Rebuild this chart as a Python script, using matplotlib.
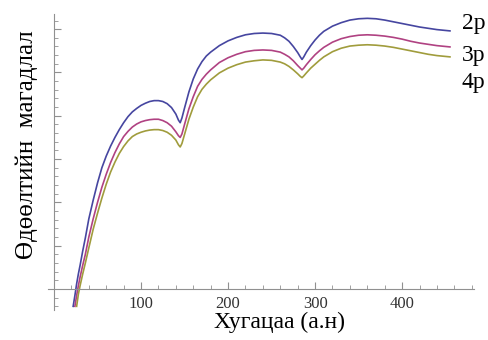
import matplotlib.pyplot as plt
from matplotlib.ticker import FixedLocator

plt.rcParams['font.family'] = ['Liberation Serif', 'DejaVu Serif']

# Data
x_2p = [22, 24, 26, 28, 30, 33, 36, 40, 45, 50, 55, 60, 65, 70, 75, 80, 85, 90, 95, 100, 105, 110,
        115, 120, 125, 130, 135, 140, 143, 145, 147, 150, 155, 160, 165, 170, 175, 180, 190, 200,
        210, 220, 230, 240, 250, 260, 265, 270, 275, 280, 283, 285, 287, 290, 295, 300, 305, 310,
        320, 330, 340, 350, 360, 370, 380, 390, 400, 410, 420, 430, 440, 450, 455]
y_2p = [-0.40, -0.15, 0.12, 0.35, 0.55, 0.88, 1.18, 1.62, 2.05, 2.45, 2.80, 3.07, 3.30, 3.50, 3.68,
        3.84, 3.98, 4.09, 4.17, 4.24, 4.29, 4.33, 4.35, 4.35, 4.33, 4.28, 4.19, 4.04, 3.90, 3.84,
        3.95, 4.18, 4.55, 4.85, 5.08, 5.25, 5.38, 5.47, 5.62, 5.73, 5.81, 5.87, 5.90, 5.91, 5.90,
        5.86, 5.80, 5.72, 5.60, 5.46, 5.36, 5.30, 5.36, 5.47, 5.62, 5.75, 5.86, 5.95, 6.07, 6.15,
        6.21, 6.24, 6.25, 6.24, 6.21, 6.17, 6.13, 6.09, 6.05, 6.02, 5.99, 5.97, 5.96]

x_3p = [24, 26, 28, 30, 33, 36, 40, 45, 50, 55, 60, 65, 70, 75, 80, 85, 90, 95, 100, 105, 110,
        115, 120, 125, 130, 135, 140, 143, 145, 147, 150, 155, 160, 165, 170, 175, 180, 190, 200,
        210, 220, 230, 240, 250, 260, 265, 270, 275, 280, 283, 285, 287, 290, 295, 300, 305, 310,
        320, 330, 340, 350, 360, 370, 380, 390, 400, 410, 420, 430, 440, 450, 455]
y_3p = [-0.40, -0.15, 0.08, 0.28, 0.55, 0.80, 1.20, 1.62, 2.00, 2.35, 2.65, 2.92, 3.15, 3.35,
        3.52, 3.64, 3.74, 3.81, 3.86, 3.89, 3.91, 3.92, 3.92, 3.89, 3.84, 3.76, 3.63, 3.54, 3.50,
        3.58, 3.80, 4.16, 4.44, 4.68, 4.84, 4.96, 5.06, 5.23, 5.34, 5.42, 5.48, 5.51, 5.52, 5.51,
        5.47, 5.42, 5.36, 5.27, 5.16, 5.10, 5.06, 5.10, 5.18, 5.30, 5.41, 5.50, 5.58, 5.70, 5.78,
        5.83, 5.86, 5.87, 5.86, 5.84, 5.81, 5.77, 5.72, 5.68, 5.65, 5.62, 5.60, 5.59]

x_4p = [26, 28, 30, 33, 36, 40, 45, 50, 55, 60, 65, 70, 75, 80, 85, 90, 95, 100, 105, 110,
        115, 120, 125, 130, 135, 140, 143, 145, 147, 150, 155, 160, 165, 170, 175, 180, 190, 200,
        210, 220, 230, 240, 250, 260, 265, 270, 275, 280, 283, 285, 287, 290, 295, 300, 305, 310,
        320, 330, 340, 350, 360, 370, 380, 390, 400, 410, 420, 430, 440, 450, 455]
y_4p = [-0.40, -0.12, 0.08, 0.35, 0.60, 0.95, 1.38, 1.75, 2.10, 2.42, 2.70, 2.93, 3.13, 3.29,
        3.42, 3.52, 3.58, 3.62, 3.65, 3.67, 3.68, 3.68, 3.66, 3.62, 3.55, 3.44, 3.33, 3.28, 3.36,
        3.57, 3.92, 4.20, 4.44, 4.61, 4.73, 4.83, 4.99, 5.10, 5.18, 5.24, 5.27, 5.29, 5.28, 5.24,
        5.20, 5.14, 5.06, 4.97, 4.91, 4.88, 4.92, 4.99, 5.10, 5.19, 5.28, 5.36, 5.48, 5.56, 5.61,
        5.63, 5.64, 5.63, 5.61, 5.58, 5.54, 5.50, 5.46, 5.42, 5.39, 5.37, 5.36]

series_labels = ['2p', '3p', '4p']
xticks = [100, 200, 300, 400]

W, H = 489, 340
fig = plt.figure(figsize=(W / 100, H / 100), dpi=100)
ax = fig.add_axes([0.098, 0.0888, 0.872, 0.870])

ax.plot(x_2p, y_2p, color='#4646a0', lw=1.2, solid_joinstyle='round')
ax.plot(x_3p, y_3p, color='#b04282', lw=1.2, solid_joinstyle='round')
ax.plot(x_4p, y_4p, color='#a09c3c', lw=1.2, solid_joinstyle='round')

ax.set_xlim(-7, 483)
ax.set_ylim(-0.48, 6.35)

# axes through the origin
for s in ['top', 'right']:
    ax.spines[s].set_visible(False)
ax.spines['left'].set_position(('data', 0))
ax.spines['bottom'].set_position(('data', 0))
for s in ['left', 'bottom']:
    ax.spines[s].set_color('#909090')
    ax.spines[s].set_linewidth(0.8)

ax.xaxis.set_major_locator(FixedLocator(xticks))
ax.xaxis.set_minor_locator(FixedLocator([v for v in range(20, 481, 20) if v % 100 != 0]))
ax.set_xticklabels([str(v) for v in xticks])
ax.yaxis.set_major_locator(FixedLocator([1, 2, 3, 4, 5, 6]))
ax.yaxis.set_minor_locator(FixedLocator([i * 0.2 for i in range(-2, 32) if i % 5 != 0]))
ax.set_yticklabels([])

ax.tick_params(axis='x', which='major', direction='in', length=5, width=0.8, color='#909090',
               labelsize=12, pad=5, labelcolor='#333333')
ax.tick_params(axis='x', which='minor', direction='in', length=3, width=0.6, color='#909090')
ax.tick_params(axis='y', which='major', direction='in', length=5, width=0.8, color='#909090')
ax.tick_params(axis='y', which='minor', direction='in', length=3, width=0.6, color='#909090')

# curve labels on the right
for lab, yb in zip(series_labels, [29, 61, 88]):
    fig.text(462 / W, 1 - yb / H, lab, fontsize=17, ha='left', va='baseline')

fig.text(280 / W, 1 - 328 / H, 'Хугацаа (а.н)', fontsize=17, ha='center', va='baseline')
fig.text(27 / W, 1 - 145 / H, 'Өдөөлтийн  магадлал', fontsize=18, rotation=90,
         ha='center', va='center')

plt.savefig('out.png', dpi=100)
